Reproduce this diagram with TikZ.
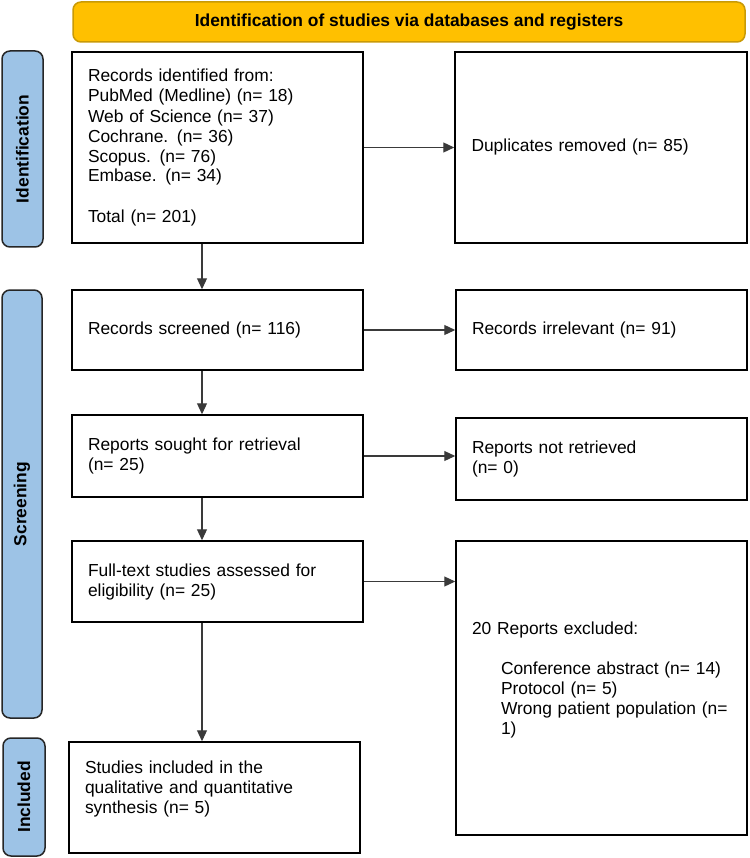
\documentclass[tikz,border=0pt]{standalone}
\usepackage{fontspec}
\setmainfont{Liberation Sans}
\usepackage{xcolor}
\usetikzlibrary{arrows.meta}

\definecolor{bannerfill}{HTML}{FFC000}
\definecolor{bannerline}{HTML}{C99A06}
\definecolor{phasefill}{HTML}{9DC3E6}
\definecolor{arrowgray}{HTML}{3A3A3A}

\begin{document}
\begin{tikzpicture}[x=1pt,y=-1pt,
  every node/.style={font=\fontsize{17.4}{20}\selectfont},
  box/.style={draw, line width=1.5pt, rectangle, inner xsep=16pt, text width=259pt, align=left, minimum width=291pt},
  phase/.style={draw=black!85, fill=phasefill, line width=1.5pt, rounded corners=8pt, rotate=90, font=\fontsize{17.4}{20}\selectfont\bfseries},
  banner/.style={draw=bannerline, fill=bannerfill, line width=1.5pt, rounded corners=8pt, minimum width=672pt, minimum height=40pt, font=\fontsize{17.4}{20}\selectfont\bfseries},
  arrow/.style={-{Triangle[length=11pt,width=10pt]}, color=arrowgray, line width=1.2pt}]
\useasboundingbox (0,0) rectangle (749,858);

\node[banner] (head) at (409,22) {Identification of studies via databases and registers};

\node[phase, minimum width=196pt, minimum height=41pt] (ident) at (22.5,149) {Identification};
\node[phase, minimum width=428pt, minimum height=40pt] (screen) at (22,504) {Screening};
\node[phase, minimum width=118pt, minimum height=42pt] (incl) at (24,797) {Included};

\node[box, minimum height=191pt] (rec) at (217.5,147.5) {Records identified from:\\
  PubMed (Medline) (n= 18)\\
  Web of Science (n= 37)\\
  Cochrane. (n= 36)\\
  Scopus. (n= 76)\\
  Embase. (n= 34)\\[20pt]
  Total (n= 201)};
\node[box, minimum height=191pt, minimum width=292pt] (dup) at (601,147.5) {Duplicates removed (n= 85)};

\node[box, minimum height=80pt] (scr) at (217.5,330) {Records screened (n= 116)};
\node[box, minimum height=80pt] (irr) at (601.5,330) {Records irrelevant (n= 91)};

\node[box, minimum height=82pt] (sought) at (217.5,456) {Reports sought for retrieval\\(n= 25)};
\node[box, minimum height=82pt] (notret) at (601.5,459) {Reports not retrieved\\(n= 0)};

\node[box, minimum height=81pt] (full) at (217.5,581.5) {Full-text studies assessed for\\eligibility (n= 25)};
\node[box, minimum height=294pt] (excl) at (601.5,688) {20 Reports excluded:\\[20pt]
  \hspace*{29pt}Conference abstract (n= 14)\\
  \hspace*{29pt}Protocol (n= 5)\\
  \hspace*{29pt}Wrong patient population (n=\\
  \hspace*{29pt}1)\\
  \mbox{}};

\node[box, minimum height=111pt] (study) at (214.5,797.5) {Studies included in the\\
  qualitative and quantitative\\
  synthesis (n= 5)\\
  \mbox{}};

\coordinate (spine) at (202,0);

\path[arrow]
  (rec.south -| spine) edge (scr.north -| spine)
  (scr.south -| spine) edge (sought.north -| spine)
  (sought.south -| spine) edge (full.north -| spine)
  (full.south -| spine) edge (study.north -| spine);

\path[arrow]
  (rec.east) edge (rec.east -| dup.west)
  (scr.east) edge (scr.east -| irr.west)
  (sought.east) edge (sought.east -| notret.west)
  (full.east) edge (full.east -| excl.west);
\end{tikzpicture}
\end{document}
